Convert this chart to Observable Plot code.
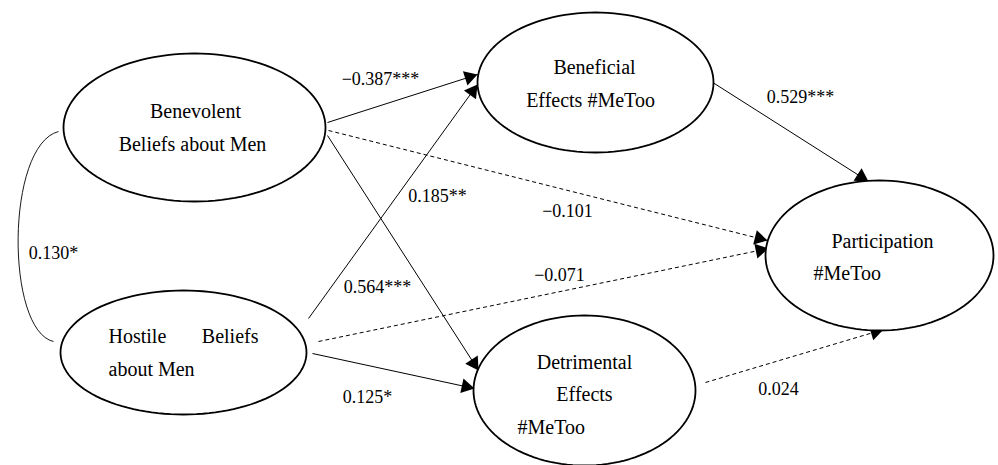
<!DOCTYPE html>
<html>
<head>
<meta charset="utf-8">
<script src="https://cdn.jsdelivr.net/npm/d3@7"></script>
<script src="https://cdn.jsdelivr.net/npm/@observablehq/plot@0.6"></script>
<style>
  html, body { margin: 0; padding: 0; background: #fff; }
  #chart svg { display: block; }
</style>
</head>
<body>
<div id="chart"></div>
<script>
// Nodes (latent constructs) of the path model
const nodeIds = ["BB", "HB", "BE", "DE", "PA"];
const nodeCx  = [194, 183, 595, 584, 879];
const nodeCy  = [127, 352,  82, 390, 255];
const nodeRx  = [131, 123, 118, 111, 114];
const nodeRy  = [ 74,  62,  70,  75,  75];

// Text lines inside each node
const lineNode   = ["BB", "BB", "BE", "BE", "PA", "PA", "HB", "HB", "HB", "DE", "DE", "DE"];
const lineText   = ["Benevolent", "Beliefs about Men", "Beneficial", "Effects #MeToo",
                    "Participation", "#MeToo", "Hostile", "Beliefs", "about Men",
                    "Detrimental", "Effects", "#MeToo"];
const lineDx     = [1, -2, -1, -5, 3, -66, -75, 75, -75, 0, 0, -67];
const lineDy     = [-16, 17, -15, 18, -14, 18, -16, -16, 17, -28, 4, 37];
const lineAnchor = ["middle", "middle", "middle", "middle", "middle", "start",
                    "start", "end", "start", "middle", "middle", "start"];

// Paths (edges) with standardized coefficients
const edgeFrom  = ["BB", "HB", "BB", "HB", "BB", "HB", "BE", "DE"];
const edgeTo    = ["BE", "BE", "DE", "DE", "PA", "PA", "PA", "PA"];
const edgeX1    = [327, 308, 327, 312, 328, 318, 706, 705];
const edgeY1    = [122, 318, 135, 353, 130, 341,  78, 382];
const edgeX2    = [477, 477, 478, 474, 767, 768, 868, 883];
const edgeY2    = [ 74,  84, 370, 388, 240, 248, 181, 329];
const edgeCoef  = ["\u22120.387***", "0.185**", "0.564***", "0.125*", "\u22120.101", "\u22120.071", "0.529***", "0.024"];
const edgeSig   = [true, true, true, true, false, false, true, false];
const edgeLabX  = [380, 437, 377, 367, 567, 559, 800, 778];
const edgeLabY  = [ 79, 196, 287, 397, 211, 275,  97, 389];

// Covariance between the two belief constructs
const covFrom = "BB", covTo = "HB";
const covX1 = 58, covY1 = 131, covX2 = 53, covY2 = 341;
const covLabel = "0.130*";
const covLabX = 53, covLabY = 253;

// ---- build tables ----
const nodes = nodeIds.map((id, i) => ({id, cx: nodeCx[i], cy: nodeCy[i], rx: nodeRx[i], ry: nodeRy[i]}));
const nodeById = Object.fromEntries(nodes.map(n => [n.id, n]));
const outline = nodes.flatMap(n => d3.range(0, 121).map(k => {
  const t = (k / 120) * 2 * Math.PI;
  return {id: n.id, x: n.cx + n.rx * Math.cos(t), y: n.cy + n.ry * Math.sin(t)};
}));
const lines = lineText.map((text, i) => {
  const n = nodeById[lineNode[i]];
  return {text, x: n.cx + lineDx[i], y: n.cy + lineDy[i], anchor: lineAnchor[i]};
});
const edges = edgeFrom.map((f, i) => ({
  from: f, to: edgeTo[i], x1: edgeX1[i], y1: edgeY1[i], x2: edgeX2[i], y2: edgeY2[i],
  label: edgeCoef[i], sig: edgeSig[i], lx: edgeLabX[i], ly: edgeLabY[i]
}));
const HEAD = 4.3; // triangle half-unit
const heads = edges.map(e => {
  const dx = e.x2 - e.x1, dy = e.y2 - e.y1, L = Math.hypot(dx, dy);
  const ux = dx / L, uy = dy / L;
  return {x: e.x2 - ux * 2 * HEAD, y: e.y2 - uy * 2 * HEAD, rot: Math.atan2(dx, -dy) * 180 / Math.PI};
});

function bracket(context) {
  let pts = [];
  return {
    areaStart() {}, areaEnd() {},
    lineStart() { pts = []; },
    point(x, y) { pts.push([x, y]); },
    lineEnd() {
      const [a, b] = pts;
      context.moveTo(a[0], a[1]);
      context.bezierCurveTo(a[0] - 53, a[1] + 14, b[0] - 48, b[1] - 11, b[0], b[1]);
    }
  };
}

const font = "Liberation Serif";
const textOpts = (anchor, size) => ({
  x: "x", y: "y", text: "text", textAnchor: anchor, lineAnchor: "middle",
  fontFamily: font, fontSize: size, fill: "#000"
});

const chart = Plot.plot({
  width: 998,
  height: 465,
  margin: 0,
  x: {domain: [0, 998], axis: null},
  y: {domain: [0, 465], axis: null, reverse: true},
  style: {background: "#fff", overflow: "visible", fontFamily: font},
  marks: [
    Plot.link([{x1: covX1, y1: covY1, x2: covX2, y2: covY2}], {
      x1: "x1", y1: "y1", x2: "x2", y2: "y2", curve: bracket, stroke: "#000", strokeWidth: 0.9
    }),
    Plot.link(edges.filter(e => e.sig), {
      x1: "x1", y1: "y1", x2: "x2", y2: "y2", stroke: "#000", strokeWidth: 1
    }),
    Plot.link(edges.filter(e => !e.sig), {
      x1: "x1", y1: "y1", x2: "x2", y2: "y2", stroke: "#000", strokeWidth: 1,
      strokeDasharray: "4,3"
    }),
    Plot.dot(heads, {
      x: "x", y: "y", rotate: "rot", symbol: "triangle", r: HEAD * Math.sqrt(3 * Math.sqrt(3) / Math.PI),
      fill: "#000", stroke: "none"
    }),
    Plot.line(outline, {x: "x", y: "y", z: "id", stroke: "#000", strokeWidth: 1.8, fill: "#fff"}),
    Plot.text(lines.filter(d => d.anchor === "middle"), textOpts("middle", 20)),
    Plot.text(lines.filter(d => d.anchor === "start"), textOpts("start", 20)),
    Plot.text(lines.filter(d => d.anchor === "end"), textOpts("end", 20)),
    Plot.text(edges.map(e => ({x: e.lx, y: e.ly, text: e.label})), textOpts("middle", 18)),
    Plot.text([{x: covLabX, y: covLabY, text: covLabel}], textOpts("middle", 18))
  ]
});
document.getElementById("chart").appendChild(chart);
</script>
</body>
</html>
